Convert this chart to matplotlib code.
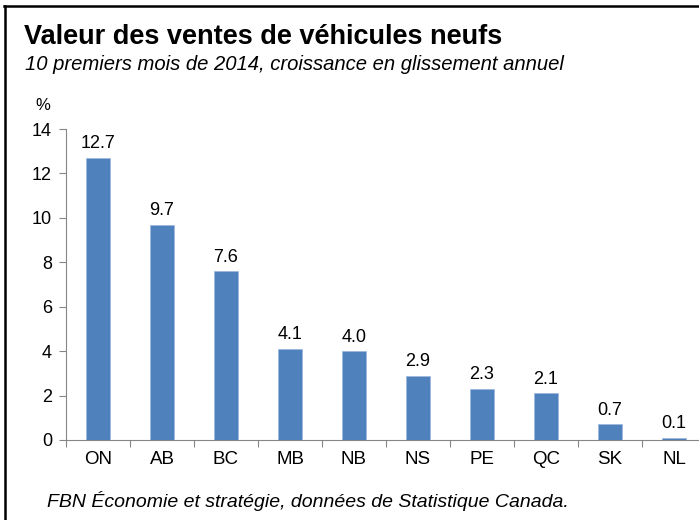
import matplotlib
matplotlib.use("Agg")
import matplotlib.pyplot as plt
from matplotlib.lines import Line2D
import numpy as np

provinces = ["ON", "AB", "BC", "MB", "NB", "NS", "PE", "QC", "SK", "NL"]
growth = [12.7, 9.7, 7.6, 4.1, 4.0, 2.9, 2.3, 2.1, 0.7, 0.1]
yticks = [0, 2, 4, 6, 8, 10, 12, 14]

plt.rcParams['font.family'] = ['Liberation Sans', 'DejaVu Sans']

W, H = 699, 520
fig = plt.figure(figsize=(W / 100, H / 100), dpi=100)
fig.patch.set_facecolor("white")

# axes in pixel terms
ax_left, ax_right = 66, 706
ax_bottom, ax_top = 440, 129
ax = fig.add_axes([ax_left / W, (H - ax_bottom) / H, (ax_right - ax_left) / W, (ax_bottom - ax_top) / H])

x = np.arange(len(provinces))
ax.bar(x, growth, width=0.39, color="#4F81BD", edgecolor="#9DB9DE", linewidth=0.6, zorder=2)
ax.set_xlim(-0.5, len(provinces) - 0.5)
ax.set_ylim(0, 14)
ax.set_yticks(yticks)
ax.set_yticklabels([str(t) for t in yticks], fontsize=13)
ax.set_xticks(x)
ax.set_xticklabels(provinces, fontsize=13.5)
ax.tick_params(axis='x', length=0, pad=8)
ax.tick_params(axis='y', length=5, color="#868686", pad=5, width=0.8)
ax.set_xticks(np.arange(len(provinces) + 1) - 0.5, minor=True)
ax.tick_params(axis='x', which='minor', length=5, color="#868686", width=0.8)
for s in ["top", "right"]:
    ax.spines[s].set_visible(False)
for s in ["left", "bottom"]:
    ax.spines[s].set_color("#868686")
    ax.spines[s].set_linewidth(0.8)

for xi, v in zip(x, growth):
    ax.annotate(f"{v:.1f}", (xi, v), xytext=(0, 4), textcoords="offset points",
                ha="center", va="bottom", fontsize=13)

fig.text(24 / W, 1 - 44 / H, "Valeur des ventes de véhicules neufs", fontsize=19.5,
         fontweight="bold", ha="left", va="baseline")
fig.text(25 / W, 1 - 70 / H, "10 premiers mois de 2014, croissance en glissement annuel",
         fontsize=14.6, style="italic", ha="left", va="baseline")
fig.text(35 / W, 1 - 110 / H, "%", fontsize=12, ha="left", va="baseline")
fig.text(47 / W, 1 - 507 / H, "FBN Économie et stratégie, données de Statistique Canada.",
         fontsize=14, style="italic", ha="left", va="baseline")

# outer frame (cropped at right and bottom)
fig.add_artist(Line2D([4.5 / W, 4.5 / W], [0, 1 - 6 / H], color="black", linewidth=1.8,
                      transform=fig.transFigure))
fig.add_artist(Line2D([3.6 / W, 1], [1 - 6 / H, 1 - 6 / H], color="black", linewidth=1.8,
                      transform=fig.transFigure))

fig.savefig("out.png", dpi=100)
